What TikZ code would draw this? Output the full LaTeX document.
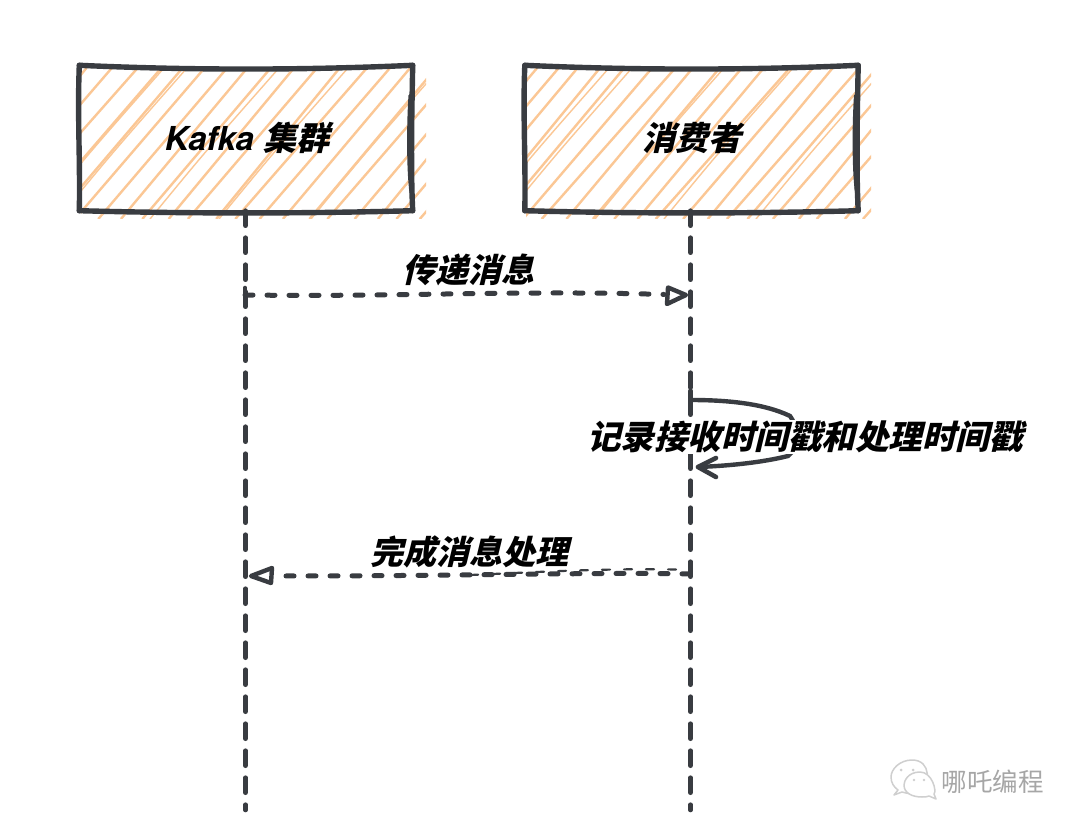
\documentclass[tikz,border=0pt]{standalone}
\usepackage{fontspec}
\setmainfont{TeX Gyre Heros}
\newfontfamily\cjkit[FakeSlant=0.24]{Noto Sans CJK SC}
\newfontfamily\cjkplain{Noto Sans CJK SC}
\usetikzlibrary{arrows.meta}
\definecolor{ink}{HTML}{393C41}
\definecolor{hatchc}{HTML}{FBC795}
\definecolor{wm}{HTML}{A6A6A6}
\definecolor{wmlight}{HTML}{CFCFCF}
\tikzset{
  x=1pt,y=-1pt,
  boxnode/.style={minimum width=333pt,minimum height=145pt,inner sep=0pt},
  edge/.style={draw=ink,line width=5.4pt,line cap=round,line join=round},
  thinedge/.style={draw=ink,line width=2.4pt,line cap=round},
  hatchline/.style={draw=hatchc,line width=2.4pt},
  lifeline/.style={draw=ink,line width=4.6pt,line cap=round,dash pattern=on 15pt off 12pt},
  msg/.style={draw=ink,line width=5pt,line cap=round,dash pattern=on 8pt off 14pt},
  tick/.style={draw=ink,line width=4.6pt,line cap=round},
  selfmsg/.style={draw=ink,line width=4.4pt,line cap=round},
  headopen/.style={draw=ink,line width=4.4pt,line join=round,line cap=round},
  lab/.style={font=\bfseries\fontsize{33}{36}\selectfont,inner sep=1pt},
  wmbubble/.style={draw=wmlight,line width=1.5pt,fill=white,line join=round},
  wmdot/.style={fill=wmlight,draw=none},
}
\newcommand{\hatchbox}[2]{%
  \begin{scope}
    \clip (#1,68) rectangle (#2,219);
    \foreach \k in {-120,-97,...,360}{
      \pgfmathsetmacro{\ja}{rnd*7-3.5}
      \pgfmathsetmacro{\jb}{rnd*7-3.5}
      \draw[hatchline] (#1+\k+\ja,219) -- (#1+\k+128+\jb,68);
    }
    \foreach \k in {-51,-28,64,133,225}{
      \draw[hatchline,line width=1.4pt] (#1+\k+5,219) .. controls (#1+\k+60,152) .. (#1+\k+134,68);
    }
  \end{scope}
}
\begin{document}
\begin{tikzpicture}
\pgfmathsetseed{7}
\useasboundingbox (0,0) rectangle (1080,829);
\fill[white] (0,0) rectangle (1080,829);
% hatching
\hatchbox{81}{426}
\hatchbox{526}{871}
% box nodes
\node[boxnode] (kafka) at (246,138) {};
\node[boxnode] (consumer) at (691.5,138) {};
\node[font=\bfseries\fontsize{33}{36}\selectfont,inner sep=0pt] (kafkat) at (247,138) {{\itshape Kafka} {\cjkit 集群}};
\node[lab,inner sep=0pt] (consumert) at (692,138) {\cjkit 消费者};
% rough borders
\foreach \b in {kafka,consumer}{
  \draw[edge] (\b.north west) .. controls ([xshift=110pt,yshift=-5pt]\b.north west) and ([xshift=-110pt,yshift=-5pt]\b.north east) .. (\b.north east);
  \draw[edge] (\b.south west) .. controls ([xshift=110pt,yshift=-3pt]\b.south west) and ([xshift=-110pt,yshift=-3pt]\b.south east) .. (\b.south east);
  \draw[edge] (\b.north west) .. controls ([xshift=-2pt,yshift=-50pt]\b.north west) and ([xshift=1pt,yshift=50pt]\b.south west) .. (\b.south west);
  \draw[edge] (\b.north east) .. controls ([xshift=-1pt,yshift=-50pt]\b.north east) and ([xshift=-2pt,yshift=40pt]\b.south east) .. (\b.south east);
  \draw[thinedge] ([xshift=-3pt,yshift=-30pt]\b.north east) .. controls ([xshift=-5pt,yshift=-60pt]\b.north east) and ([xshift=-5pt,yshift=40pt]\b.south east) .. ([xshift=-2pt,yshift=18pt]\b.south east);
}
% lifelines
\coordinate (kafkaend) at (245.5,810);
\coordinate (consumerend) at (690.5,810);
\draw[lifeline] (kafka.south -| kafkaend) -- (kafkaend);
\draw[lifeline] (consumer.south -| consumerend) -- (consumerend);
% message 1
\coordinate (m1s) at (245,295);
\coordinate (m1e) at (686,295);
\draw[tick] (245,288) -- (245,303);
\draw[msg] (m1s) .. controls (400,297) and (520,290) .. (664,294.5);
\draw[headopen] (m1e) -- (668,287.5) -- (667,304) -- cycle;
% self message
\coordinate (selfs) at (690.5,400);
\coordinate (selfe) at (698,467);
\draw[tick] (690.5,391) -- (690.5,410);
\draw[selfmsg] (selfs) .. controls (730,400) and (765,404) .. (790,416) .. controls (800,430) and (798,448) .. (788,456) .. controls (760,463) and (725,466) .. (selfe);
\draw[headopen,line width=4.6pt] (716,458) -- (selfe) -- (716,477);
\node[lab,fill=white,font=\bfseries\fontsize{33.5}{36}\selectfont] (selflab) at (805,437) {\cjkit 记录接收时间戳和处理时间戳};
% message 2
\coordinate (m2s) at (690,574);
\coordinate (m2e) at (251,576);
\draw[msg] (m2s) .. controls (600,572) and (480,576) .. (273,576);
\draw[msg,line width=2.2pt] (676,569.5) .. controls (600,568) and (520,573) .. (470,575);
\draw[headopen] (m2e) -- (272,568) -- (271,583) -- cycle;
% labels
\node[lab] (l1) at (468,270) {\cjkit 传递消息};
\node[lab] (l2) at (469,552) {\cjkit 完成消息处理};
% watermark
\begin{scope}
  \draw[wmbubble] (912,760) .. controls (900,760) and (891,769) .. (891,777) .. controls (891,783) and (894,787) .. (898,790) -- (894,795) -- (902,792) .. controls (908,794) and (914,794) .. (920,793) .. controls (930,785) and (932,760) .. (912,760) -- cycle;
  \fill[wmdot] (901,770) circle (1.5pt);
  \fill[wmdot] (913,770) circle (1.5pt);
  \draw[wmbubble] (920,772) .. controls (908,772) and (904,781) .. (904,785) .. controls (904,793) and (912,797) .. (922,797) .. controls (925,797) and (927,797) .. (929,796) -- (936,799) -- (934,794) .. controls (937,791) and (932,772) .. (920,772) -- cycle;
  \fill[wmdot] (914,780) circle (1.3pt);
  \fill[wmdot] (924,780) circle (1.3pt);
\end{scope}
\node[font=\fontsize{25.5}{28}\selectfont,text=wm,inner sep=0pt] (wmt) at (992.5,782) {\cjkplain 哪吒编程};
\end{tikzpicture}
\end{document}
